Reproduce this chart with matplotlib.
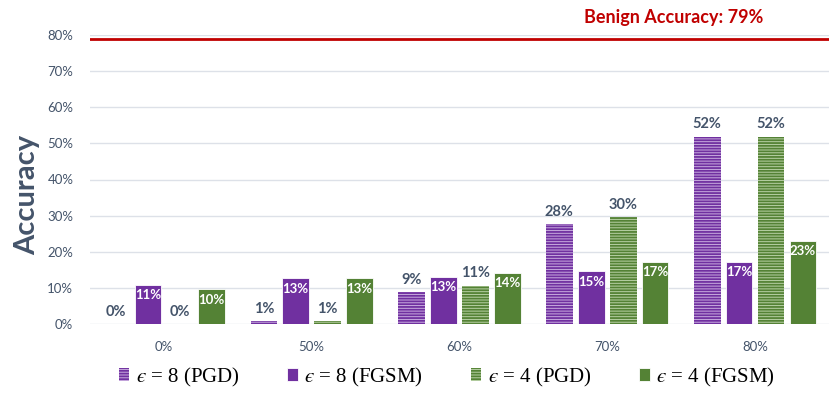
import numpy as np
import matplotlib.pyplot as plt

groups = ["0%", "50%", "60%", "70%", "80%"]
pgd_eps8 = [0.0, 0.8, 8.8, 27.6, 51.8]
fgsm_eps8 = [10.8, 12.6, 13.1, 14.6, 17.2]
pgd_eps4 = [0.0, 0.8, 10.6, 29.6, 51.8]
fgsm_eps4 = [9.6, 12.6, 14.2, 17.2, 23.1]
benign = 79
series_labels = ["$ϵ$ = 8 (PGD)", "$ϵ$ = 8 (FGSM)",
                 "$ϵ$ = 4 (PGD)", "$ϵ$ = 4 (FGSM)"]

PURPLE = "#7030a0"
GREEN = "#548235"
TXT = "#44546a"

plt.rcParams["font.family"] = ["Lato", "DejaVu Sans"]
plt.rcParams["mathtext.fontset"] = "stix"
plt.rcParams["hatch.linewidth"] = 1.3

fig = plt.figure(figsize=(8.3, 3.94), dpi=100)
ax = fig.add_axes([90 / 830, 70 / 394, 739 / 830, 289 / 394])

x = np.arange(len(groups))
w = 0.18
step = 0.216
offs = [-1.5 * step, -0.5 * step, 0.5 * step, 1.5 * step]

specs = [
    (pgd_eps8, "#c9acdf", PURPLE, "------"),
    (fgsm_eps8, PURPLE, PURPLE, None),
    (pgd_eps4, "#b9d1a6", GREEN, "------"),
    (fgsm_eps4, GREEN, GREEN, None),
]

handles = []
for (vals, face, edge, hatch), off, lab in zip(specs, offs, series_labels):
    bars = ax.bar(x + off, vals, w, color=face, edgecolor=edge if hatch else "white",
                  hatch=hatch, linewidth=0 if hatch else 0.6, label=lab, zorder=3)
    handles.append(bars)
    for b, v in zip(bars, vals):
        cx = b.get_x() + b.get_width() / 2
        txt = f"{round(v):d}%"
        if hatch:
            ax.text(cx, v + 1.5, txt, ha="center", va="bottom", fontsize=10.5,
                    fontweight="bold", color=TXT, zorder=4)
        else:
            ax.text(cx, v - 1.2, txt, ha="center", va="top", fontsize=9.5,
                    fontweight="bold", color="white", zorder=4)

ax.axhline(benign, color="#c00000", lw=2, zorder=5)
ax.text(0.79, 1.03, f"Benign Accuracy: {benign}%", transform=ax.transAxes,
        ha="center", va="bottom", fontsize=13, fontweight="bold", color="#c00000")

ax.set_xlim(-0.5, 4.5)
ax.set_ylim(0, 80)
ax.set_yticks(np.arange(0, 81, 10))
ax.set_yticklabels([f"{t}%" for t in range(0, 81, 10)])
ax.set_xticks(x)
ax.set_xticklabels(groups)
ax.tick_params(axis="both", length=0, labelsize=9.5, labelcolor=TXT)
ax.tick_params(axis="y", pad=12)
ax.tick_params(axis="x", pad=12)
ax.grid(axis="y", color="#dde1e8", lw=1, zorder=0)
for s in ax.spines.values():
    s.set_visible(False)

ax.set_ylabel("Accuracy", fontsize=21, fontweight="bold", color=TXT,
              va="center", ha="center")
ax.yaxis.set_label_coords(-0.085, 0.446)

fig.legend(handles=handles, loc="center", bbox_to_anchor=(447 / 830, 1 - 377 / 394),
           ncol=4, frameon=False, handlelength=0.5, handleheight=0.6,
           handletextpad=0.3, columnspacing=2.3,
           prop={"family": "Liberation Serif", "size": 15})

fig.savefig("out.png", dpi=100)
